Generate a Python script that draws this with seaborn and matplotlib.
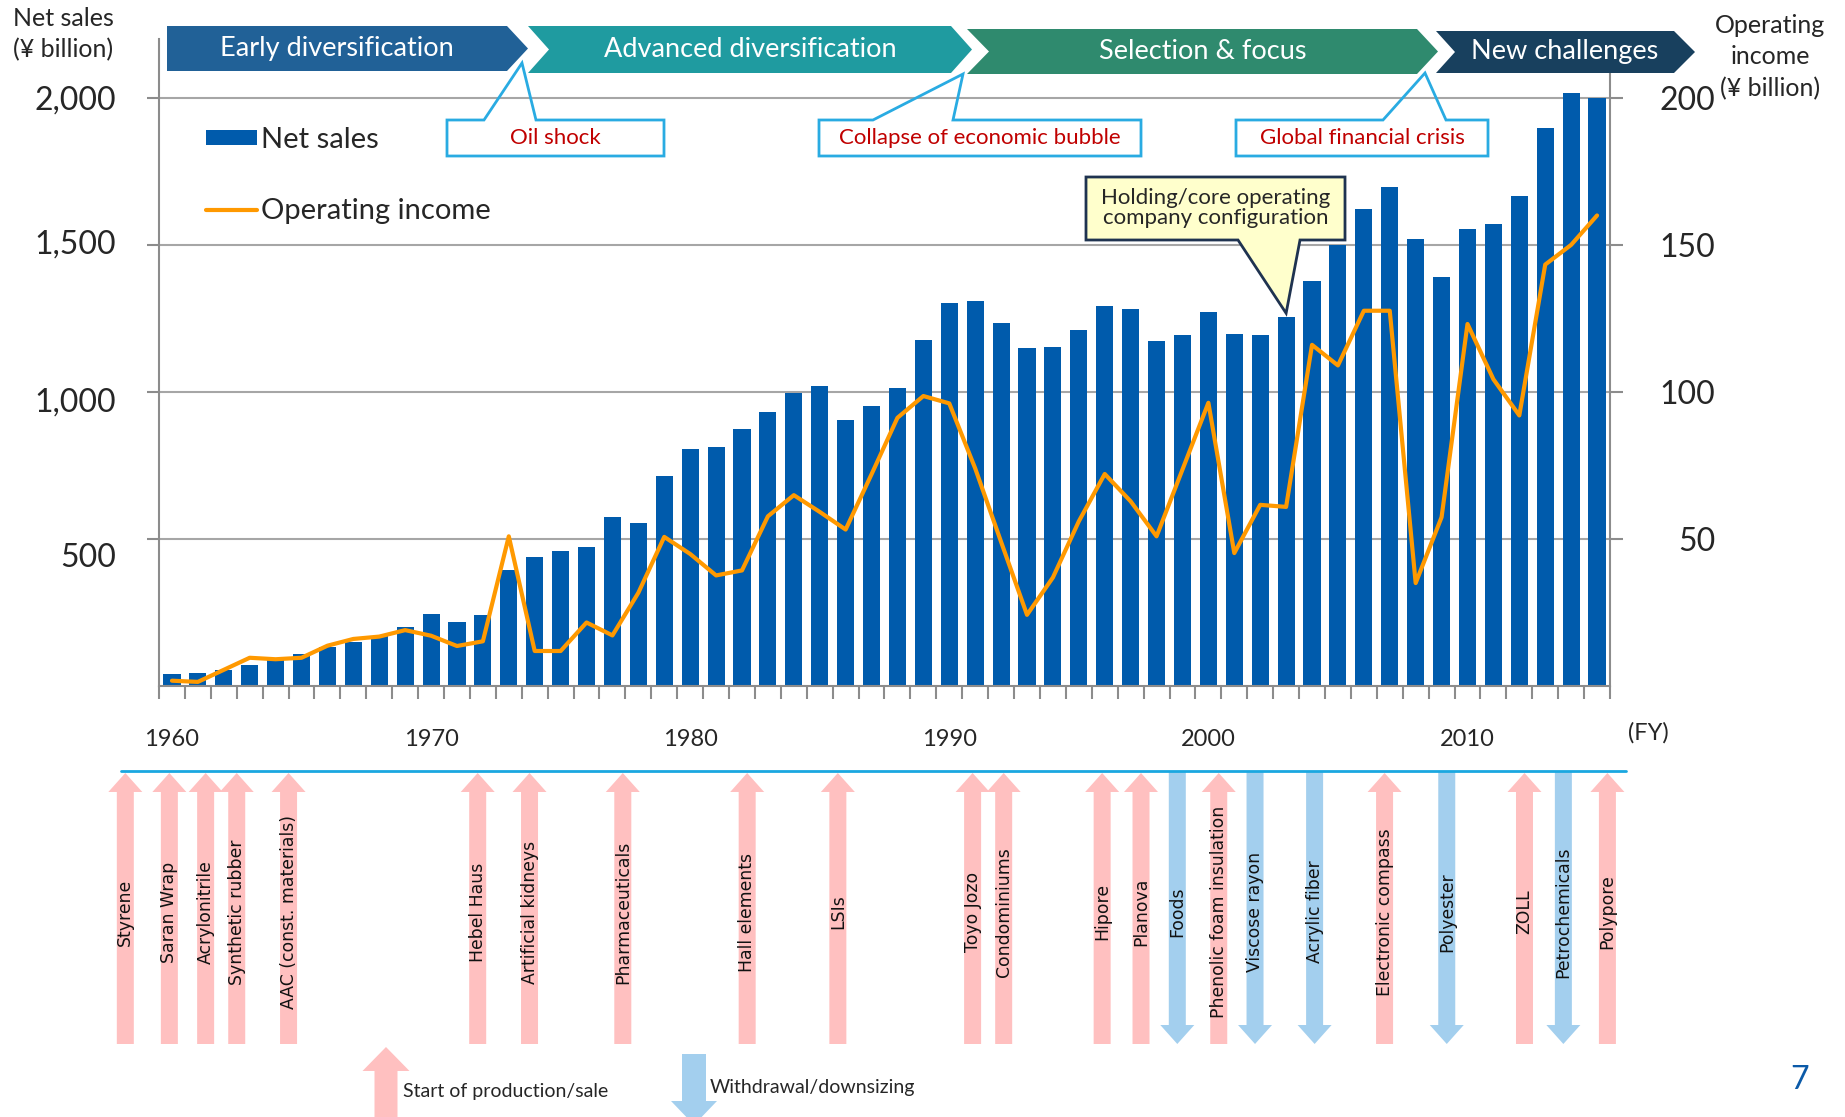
import matplotlib

matplotlib.use("Agg")

import matplotlib.pyplot as plt
import matplotlib.transforms as mtransforms
import numpy as np
import seaborn as sns
from matplotlib.patches import Polygon

# ---- data ----
years = list(range(1960, 2016))
net_sales = [
    41, 45, 55, 73, 88, 110, 131, 151, 169, 202,
    245, 217, 241, 393, 438, 458, 474, 576, 555, 713,
    807, 814, 875, 933, 997, 1021, 903, 952, 1012, 1178,
    1303, 1308, 1233, 1151, 1154, 1211, 1292, 1283, 1172, 1195,
    1271, 1196, 1194, 1254, 1378, 1499, 1623, 1696, 1520, 1390,
    1553, 1571, 1666, 1896, 2016, 2000,
]
operating_income = [
    1.8, 1.4, 5.5, 9.6, 9.1, 9.6, 13.7, 16.0, 16.8, 19.0,
    17.1, 13.6, 15.2, 50.9, 11.9, 11.9, 21.6, 17.2, 31.7, 50.7,
    44.9, 37.6, 39.3, 57.7, 64.9, 59.2, 53.2, 72.0, 91.2, 98.6,
    96.1, 74.0, 49.0, 24.2, 36.9, 56.0, 72.1, 62.8, 50.9, 73.6,
    96.3, 45.2, 61.6, 60.9, 116.0, 109.0, 127.6, 127.6, 35.0, 57.4,
    123.1, 104.3, 92.0, 143.3, 150.0, 160.0,
]
sales_ticks = [500, 1000, 1500, 2000]
income_ticks = [50, 100, 150, 200]
labeled_years = [1960, 1970, 1980, 1990, 2000, 2010]

phases = ["Early diversification", "Advanced diversification", "Selection & focus", "New challenges"]
events = ["Oil shock", "Collapse of economic bubble", "Global financial crisis"]
holding_note = "Holding/core operating\ncompany configuration"
holding_year = 2003

milestones = [
    "Styrene", "Saran Wrap", "Acrylonitrile", "Synthetic rubber", "AAC (const. materials)",
    "Hebel Haus", "Artificial kidneys", "Pharmaceuticals", "Hall elements", "LSIs",
    "Toyo Jozo", "Condominiums", "Hipore", "Planova", "Foods",
    "Phenolic foam insulation", "Viscose rayon", "Acrylic fiber", "Electronic compass", "Polyester",
    "ZOLL", "Petrochemicals", "Polypore",
]
milestone_years = [
    1958.2, 1959.9, 1961.3, 1962.5, 1964.5,
    1971.8, 1973.8, 1977.4, 1982.2, 1985.7,
    1990.9, 1992.1, 1995.9, 1997.4, 1998.8,
    2000.4, 2001.8, 2004.1, 2006.8, 2009.2,
    2012.2, 2013.7, 2015.4,
]
milestone_start = [
    True, True, True, True, True,
    True, True, True, True, True,
    True, True, True, True, False,
    True, False, False, True, False,
    True, False, True,
]

# ---- style ----
W, H = 1845, 1117
BAR_BLUE = "#005BAC"
ORANGE = "#FF9900"
GRID = "#A6A6A6"
AXIS = "#8C8C8C"
PINK = "#FFC0C0"
LIGHT_BLUE = "#A3CFEE"
CALLOUT_EDGE = "#29ABE2"
CALLOUT_TEXT = "#C00000"
PHASE_COLORS = ["#216197", "#1F9BA0", "#2F8A6E", "#18405E"]

sns.set_theme(style="white")
plt.rcParams["font.family"] = ["Lato", "DejaVu Sans"]
plt.rcParams["axes.unicode_minus"] = False

fig = plt.figure(figsize=(W / 100, H / 100), dpi=100)
ax = fig.add_axes([159 / W, 1 - 686 / H, (1610 - 159) / W, (686 - 39) / H])

sns.barplot(x=years, y=net_sales, ax=ax, color=BAR_BLUE, saturation=1, width=0.66,
            errorbar=None, linewidth=0)
positions = np.arange(len(years))
ax.set_xlim(-0.5, len(years) - 0.5)
ax.set_ylim(0, 2200)
ax.set_xlabel("")
ax.set_ylabel("")

ax2 = ax.twinx()
sns.lineplot(x=positions, y=operating_income, ax=ax2, color=ORANGE, linewidth=3)
ax2.set_ylim(0, 220)
ax2.set_xlim(-0.5, len(years) - 0.5)
ax2.set_xlabel("")
ax2.set_ylabel("")

ax.set_axisbelow(True)
ax.yaxis.grid(True, color=GRID, linewidth=1.5)
ax.xaxis.grid(False)

for name, spine in ax.spines.items():
    spine.set_visible(name in ("left", "bottom"))
    spine.set_color(AXIS)
    spine.set_linewidth(1.5)
for name, spine in ax2.spines.items():
    spine.set_visible(name == "right")
    spine.set_color(AXIS)
    spine.set_linewidth(1.5)

ax.set_yticks(sales_ticks)
ax.set_yticklabels([f"{v:,}" for v in sales_ticks], fontsize=23)
ax.tick_params(axis="y", length=9, width=1.5, color=AXIS, direction="out", pad=22, left=True)
# the slide's left labels sit slightly below their gridlines
for lbl, shift in zip(ax.get_yticklabels(), [-16, -8, 3, 0]):
    lbl.set_transform(lbl.get_transform() + mtransforms.ScaledTranslation(0, shift / 100, fig.dpi_scale_trans))

ax2.set_yticks(income_ticks)
ax2.set_yticklabels([str(v) for v in income_ticks], fontsize=23, ha="right")
ax2.tick_params(axis="y", length=9, width=1.5, color=AXIS, direction="out", pad=67, right=True)

ax.set_xticks([years.index(y) for y in labeled_years])
ax.set_xticklabels([str(y) for y in labeled_years], fontsize=17)
ax.set_xticks(np.arange(-0.5, len(years), 1.0), minor=True)
ax.tick_params(axis="x", which="major", length=0, pad=31, bottom=True)
ax.tick_params(axis="x", which="minor", length=9, width=1.5, color=AXIS, direction="out", bottom=True)

fig.legend(
    [ax.containers[0], ax2.lines[0]], ["Net sales", "Operating income"],
    loc="upper left", bbox_to_anchor=(206 / W, 1 - 127 / H), frameon=False, fontsize=21,
    handlelength=1.75, handleheight=0.45, handletextpad=0.14, labelspacing=1.55,
    borderpad=0, borderaxespad=0,
)

# ---- overlay in pixel coordinates for banners, callouts and milestone arrows ----
ov = fig.add_axes([0, 0, 1, 1], zorder=5)
ov.set_xlim(0, W)
ov.set_ylim(H, 0)
ov.set_axis_off()
ov.patch.set_visible(False)


def to_px(x, y):
    dx, dy = ax.transData.transform((x, y))
    return dx, H - dy


# axis titles
ov.text(63, 34, "Net sales\n(¥ billion)", ha="center", va="center", fontsize=18, linespacing=1.45)
ov.text(1770, 57, "Operating\nincome\n(¥ billion)", ha="center", va="center", fontsize=18, linespacing=1.45)
ov.text(1648, 733, "(FY)", ha="center", va="center", fontsize=17)

# phase banners
phase_boxes = [(167, 507, 26, 71, 0), (528, 951, 26, 73, 21), (967, 1417, 29, 74, 22), (1436, 1674, 31, 73, 19)]
for label, color, (x0, x1, y0, y1, notch) in zip(phases, PHASE_COLORS, phase_boxes):
    ym = (y0 + y1) / 2
    pts = [(x0, y0), (x1, y0), (x1 + 21, ym), (x1, y1), (x0, y1)]
    if notch:
        pts.append((x0 + notch, ym))
    ov.add_patch(Polygon(pts, closed=True, facecolor=color, edgecolor="none"))
    ov.text((x0 + notch + x1) / 2, ym, label, color="white", ha="center", va="center", fontsize=19.5)

# event callouts (box with pointer up to the banner joint)
event_boxes = [(447, 664, 484, 536, 522, 63), (819, 1141, 873, 953, 963, 74), (1236, 1488, 1383, 1446, 1425, 73)]
for label, (x0, x1, l0, l1, tx, ty) in zip(events, event_boxes):
    y0, y1 = 120, 156
    pts = [(x0, y0), (l0, y0), (tx, ty), (l1, y0), (x1, y0), (x1, y1), (x0, y1)]
    ov.add_patch(Polygon(pts, closed=True, facecolor="none", edgecolor=CALLOUT_EDGE, linewidth=2))
    ov.text((x0 + x1) / 2, (y0 + y1) / 2, label, color=CALLOUT_TEXT, ha="center", va="center", fontsize=16)

# holding company callout pointing at the bar
tip_x, tip_y = to_px(years.index(holding_year), net_sales[years.index(holding_year)])
hx0, hx1, hy0, hy1 = 1086, 1345, 177, 240
pts = [(hx0, hy0), (hx1, hy0), (hx1, hy1), (1300, hy1), (tip_x, tip_y - 4), (1238, hy1), (hx0, hy1)]
ov.add_patch(Polygon(pts, closed=True, facecolor="#FFFFCC", edgecolor="#1F3350", linewidth=2))
ov.text((hx0 + hx1) / 2, (hy0 + hy1) / 2, holding_note, ha="center", va="center", fontsize=16,
        linespacing=1.0)

# milestone arrows
ov.plot([121, 1626], [771, 771], color="#1AA7E0", linewidth=2)


def vertical_arrow(x, top, bottom, up, color, shaft=17, head=34, head_len=19):
    if up:
        base = top + head_len
        pts = [(x - shaft / 2, bottom), (x - shaft / 2, base), (x - head / 2, base), (x, top),
               (x + head / 2, base), (x + shaft / 2, base), (x + shaft / 2, bottom)]
    else:
        base = bottom - head_len
        pts = [(x - shaft / 2, top), (x - shaft / 2, base), (x - head / 2, base), (x, bottom),
               (x + head / 2, base), (x + shaft / 2, base), (x + shaft / 2, top)]
    ov.add_patch(Polygon(pts, closed=True, facecolor=color, edgecolor="none"))


for name, fy, start in zip(milestones, milestone_years, milestone_start):
    x, _ = to_px(fy - years[0], 0)
    vertical_arrow(x, 773 if start else 771, 1044, start, PINK if start else LIGHT_BLUE)
    ov.text(x, 912, name, rotation=90, ha="center", va="center", fontsize=12.4,
            family=["DejaVu Sans"], color="#111111")

# arrow key
vertical_arrow(386, 1047, 1125, True, PINK, shaft=23, head=47, head_len=24)
ov.text(403, 1091, "Start of production/sale", ha="left", va="center", fontsize=14)
vertical_arrow(694, 1054, 1125, False, LIGHT_BLUE, shaft=24, head=46, head_len=24)
ov.text(710, 1087, "Withdrawal/downsizing", ha="left", va="center", fontsize=14)

ov.text(1800, 1080, "7", ha="center", va="center", fontsize=23, color="#0B5AA8")

fig.savefig("out.png", dpi=100)
